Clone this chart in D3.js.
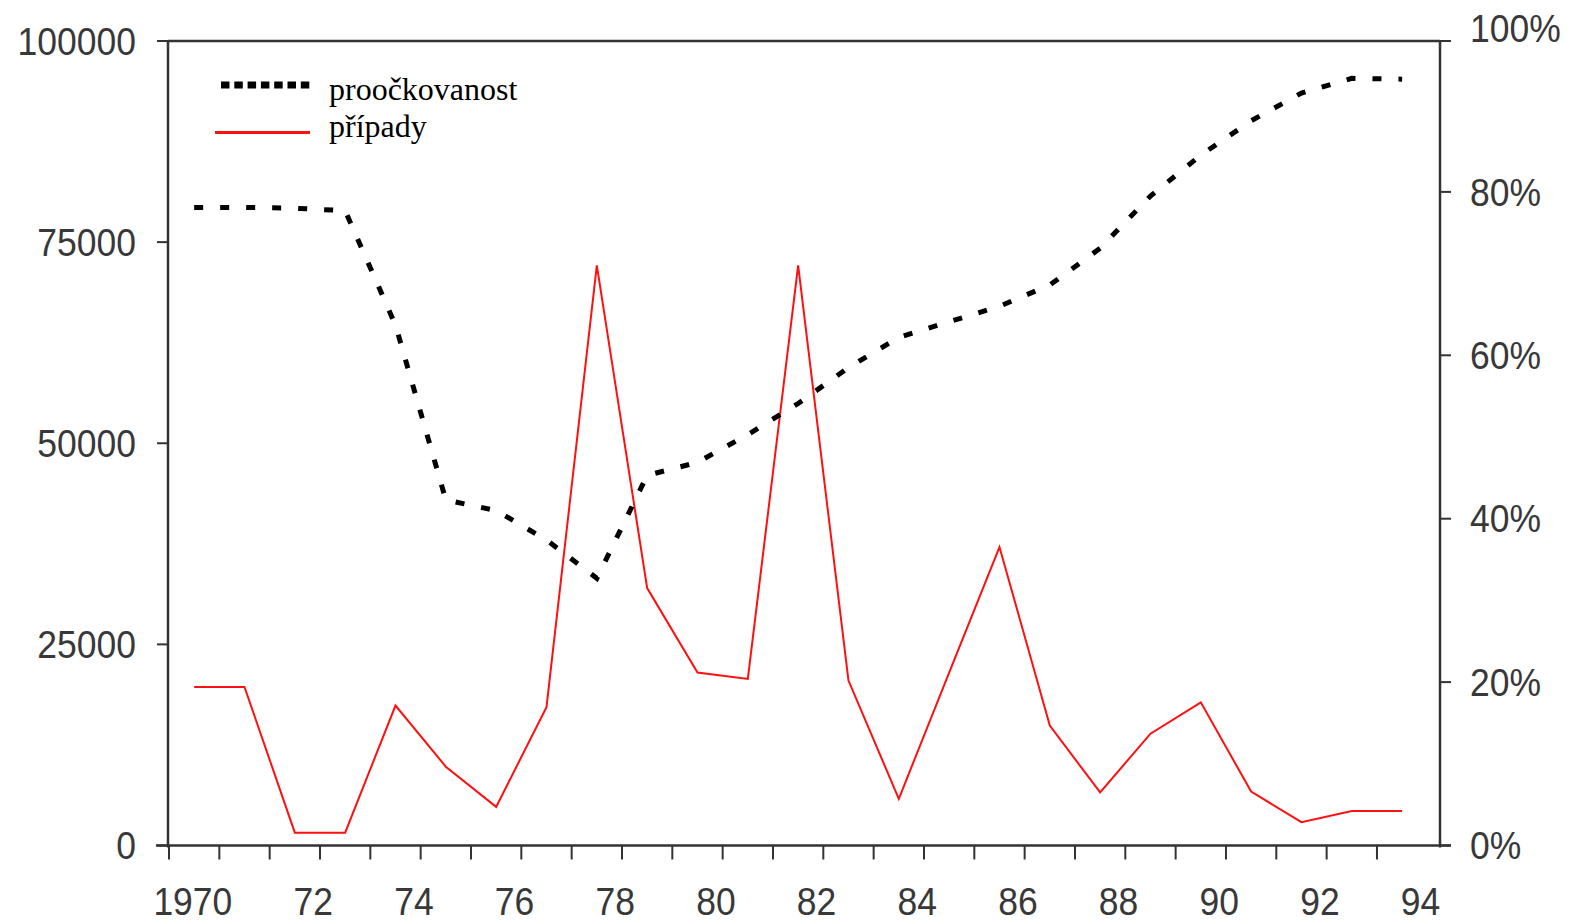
<!DOCTYPE html>
<html>
<head>
<meta charset="utf-8">
<script src="https://cdn.jsdelivr.net/npm/d3@7"></script>
<style>
  html, body { margin: 0; padding: 0; background: #fff; }
  svg { display: block; }
</style>
</head>
<body>
<svg id="chart" width="1574" height="922"></svg>
<script>
// ---- data ----
const years = [1970,1971,1972,1973,1974,1975,1976,1977,1978,1979,1980,1981,1982,1983,1984,1985,1986,1987,1988,1989,1990,1991,1992,1993,1994];
const cases = [19700,19700,1600,1600,17400,9800,4800,17200,72100,32000,21500,20700,72100,20500,5800,21500,37100,14900,6600,13900,17800,6700,2900,4300,4300];
const coverage = [0.781,0.781,0.780,0.777,0.637,0.423,0.410,0.374,0.327,0.453,0.469,0.503,0.541,0.585,0.622,0.641,0.660,0.686,0.731,0.795,0.845,0.887,0.921,0.939,0.938];
const leftTicks = [0,25000,50000,75000,100000];
const rightTicks = [0,0.2,0.4,0.6,0.8,1.0];
const xTickYears = [1969,1970,1971,1972,1973,1974,1975,1976,1977,1978,1979,1980,1981,1982,1983,1984,1985,1986,1987,1988,1989,1990,1991,1992,1993];
const xLabelYears = [1970,1972,1974,1976,1978,1980,1982,1984,1986,1988,1990,1992,1994];
const xLabelTexts = ["1970","72","74","76","78","80","82","84","86","88","90","92","94"];
const seriesNames = ["proočkovanost","případy"];

// ---- layout ----
const L = 168, R = 1440, T = 41, B = 845.5;
const svg = d3.select("#chart");

const x = d3.scaleLinear().domain([1969, 1994]).range([169, 1427.3]);
const yL = d3.scaleLinear().domain([0, 100000]).range([B, T]);
const yR = d3.scaleLinear().domain([0, 1]).range([B, 28.5]);
const px = d => x(d - 0.5);

const axisColor = "#333";
const labelFont = "'Liberation Sans', Arial, sans-serif";
const labelColor = "#383838";
const stretch = (xx, yy) => `translate(${xx},${yy}) scale(1,1.1)`;

// frame: top line
svg.append("line").attr("x1", L).attr("x2", R).attr("y1", T).attr("y2", T)
  .attr("stroke", axisColor).attr("stroke-width", 2.5);

// left axis
const gL = svg.append("g");
gL.append("line").attr("x1", L).attr("x2", L).attr("y1", T).attr("y2", B + 2)
  .attr("stroke", axisColor).attr("stroke-width", 2.5);
gL.selectAll(".lt").data(leftTicks).enter().append("line")
  .attr("x1", L - 11).attr("x2", L).attr("y1", d => yL(d)).attr("y2", d => yL(d))
  .attr("stroke", axisColor).attr("stroke-width", 2);
gL.selectAll(".ll").data(leftTicks).enter().append("text")
  .attr("transform", d => stretch(136, yL(d)))
  .attr("text-anchor", "end").attr("dominant-baseline", "central")
  .attr("font-family", labelFont).attr("font-size", 35.5).attr("fill", labelColor)
  .text(d => d);

// right axis
const gR = svg.append("g");
gR.append("line").attr("x1", R).attr("x2", R).attr("y1", T).attr("y2", B + 2)
  .attr("stroke", axisColor).attr("stroke-width", 2.5);
gR.selectAll(".rt").data(rightTicks).enter().append("line")
  .attr("x1", R).attr("x2", R + 11)
  .attr("y1", d => Math.max(yR(d), T)).attr("y2", d => Math.max(yR(d), T))
  .attr("stroke", axisColor).attr("stroke-width", 2);
gR.selectAll(".rl").data(rightTicks).enter().append("text")
  .attr("transform", d => stretch(1470, yR(d)))
  .attr("text-anchor", "start").attr("dominant-baseline", "central")
  .attr("font-family", labelFont).attr("font-size", 35.5).attr("fill", labelColor)
  .text(d => d3.format(".0%")(d));

// bottom axis
const gB = svg.append("g");
gB.append("line").attr("x1", L - 12).attr("x2", R + 11).attr("y1", B).attr("y2", B)
  .attr("stroke", axisColor).attr("stroke-width", 2.5);
gB.selectAll(".bt").data(xTickYears).enter().append("line")
  .attr("x1", d => x(d)).attr("x2", d => x(d)).attr("y1", B).attr("y2", B + 14)
  .attr("stroke", axisColor).attr("stroke-width", 2);
gB.selectAll(".bl").data(xLabelYears).enter().append("text")
  .attr("transform", d => stretch(x(d) + 13, 901))
  .attr("text-anchor", "end").attr("dominant-baseline", "central")
  .attr("font-family", labelFont).attr("font-size", 35.5).attr("fill", labelColor)
  .text((d, i) => xLabelTexts[i]);

// red line: cases
const lineCases = d3.line().x((d, i) => px(years[i])).y(d => yL(d));
svg.append("path").datum(cases).attr("d", lineCases)
  .attr("fill", "none").attr("stroke", "#ff1010").attr("stroke-width", 2)
  .attr("stroke-linejoin", "miter");

// black dotted: coverage
const lineCov = d3.line().x((d, i) => px(years[i])).y(d => yR(d));
svg.append("path").datum(coverage).attr("d", lineCov)
  .attr("fill", "none").attr("stroke", "#000").attr("stroke-width", 5)
  .attr("stroke-dasharray", "9,17");

// legend
const legendFont = "'Liberation Serif', 'Times New Roman', serif";
svg.append("line").attr("x1", 221).attr("x2", 310).attr("y1", 85).attr("y2", 85)
  .attr("stroke", "#000").attr("stroke-width", 7).attr("stroke-dasharray", "8.5,4.8");
svg.append("line").attr("x1", 215).attr("x2", 310).attr("y1", 132.5).attr("y2", 132.5)
  .attr("stroke", "#ff1010").attr("stroke-width", 3);
svg.append("text").attr("x", 329).attr("y", 100)
  .attr("font-family", legendFont).attr("font-size", 32).attr("fill", "#000")
  .text(seriesNames[0]);
svg.append("text").attr("x", 329).attr("y", 137)
  .attr("font-family", legendFont).attr("font-size", 32).attr("fill", "#000")
  .text(seriesNames[1]);
</script>
</body>
</html>
